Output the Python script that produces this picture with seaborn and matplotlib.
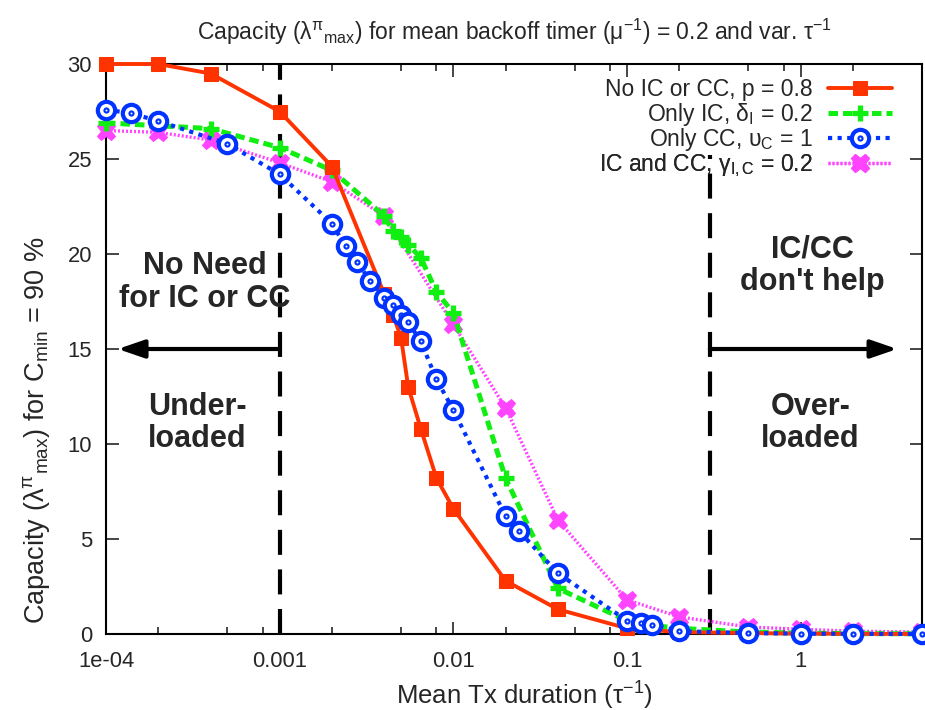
import numpy as np
import pandas as pd
import matplotlib
matplotlib.use("Agg")
import matplotlib.pyplot as plt
import seaborn as sns
from matplotlib.path import Path
from matplotlib.ticker import LogLocator, FixedLocator, NullFormatter, FixedFormatter

# ---------------- data ----------------
x_no = [1e-4, 2e-4, 4e-4, 1e-3, 2e-3, 4e-3, 4.5e-3, 5e-3, 5.5e-3, 6.5e-3, 8e-3, 1e-2,
        2e-2, 4e-2, 0.1, 0.2, 0.5, 1, 2, 5]
y_no = [30, 30, 29.5, 27.5, 24.6, 17.9, 16.8, 15.6, 13.0, 10.8, 8.2, 6.6,
        2.8, 1.3, 0.3, 0.1, 0.05, 0.02, 0.01, 0.0]

x_ic = [1e-4, 4e-4, 1e-3, 2e-3, 4e-3, 4.5e-3, 5e-3, 5.5e-3, 6.5e-3, 8e-3, 1e-2,
        2e-2, 4e-2, 0.1, 0.12, 0.14, 0.2, 0.5, 1, 2, 5]
y_ic = [26.9, 26.6, 25.6, 24.4, 22.0, 21.2, 20.9, 20.5, 19.8, 18.0, 16.9,
        8.2, 2.4, 0.7, 0.55, 0.45, 0.3, 0.1, 0.05, 0.02, 0.01]

x_cc = [1e-4, 1.4e-4, 2e-4, 5e-4, 1e-3, 2e-3, 2.4e-3, 2.8e-3, 3.3e-3, 4e-3, 4.5e-3,
        5e-3, 5.5e-3, 6.5e-3, 8e-3, 1e-2, 2e-2, 2.4e-2, 4e-2, 0.1, 0.12, 0.14,
        0.2, 0.5, 1, 2, 5]
y_cc = [27.6, 27.4, 27.0, 25.8, 24.2, 21.6, 20.4, 19.6, 18.6, 17.7, 17.3,
        16.8, 16.4, 15.4, 13.4, 11.8, 6.2, 5.4, 3.2, 0.7, 0.6, 0.5,
        0.15, 0.05, 0.02, 0.01, 0.0]

x_both = [1e-4, 2e-4, 4e-4, 1e-3, 2e-3, 4e-3, 1e-2, 2e-2, 4e-2, 0.1, 0.2, 0.5, 1, 2, 5]
y_both = [26.5, 26.4, 26.0, 24.8, 23.8, 22.0, 16.3, 11.9, 6.0, 1.8, 0.9, 0.37, 0.25, 0.15, 0.1]

labels = ["No IC or CC, p = 0.8",
          r"Only IC, δ$_{\mathrm{I}}$ = 0.2",
          r"Only CC, υ$_{\mathrm{C}}$ = 1",
          r"IC and CC, γ$_{\mathrm{I,C}}$ = 0.2"]

x_ticks = [1e-4, 1e-3, 1e-2, 0.1, 1]
x_ticklabels = ["1e-04", "0.001", "0.01", "0.1", "1"]
y_ticks = [0, 5, 10, 15, 20, 25, 30]

underloaded_limit = 1e-3
overloaded_limit = 0.3

# ---------------- style ----------------
sns.set_style("ticks")
plt.rcParams["font.family"] = ["Liberation Sans", "DejaVu Sans"]
plt.rcParams["mathtext.fontset"] = "custom"
plt.rcParams["mathtext.rm"] = "Liberation Sans"
plt.rcParams["mathtext.it"] = "Liberation Sans:italic"
plt.rcParams["mathtext.bf"] = "Liberation Sans:bold"

RED = "#ff3300"
GREEN = "#11ee11"
BLUE = "#0033ff"
MAGENTA = "#ff44ff"

fig = plt.figure(figsize=(9.25, 7.10), dpi=100)
ax = fig.add_axes([106 / 925, 1 - 634 / 710, 816 / 925, 570 / 710])

ring_dot = Path.make_compound_path(Path.circle((0, 0), 1.0), Path.circle((0, 0), 0.12))

h_no = sns.lineplot(x=x_no, y=y_no, ax=ax, color=RED, lw=2.8, marker="s", ms=10,
                    mec=RED, mfc=RED, sort=False, estimator=None, clip_on=False,
                    zorder=5).lines[-1]
h_ic = sns.lineplot(x=x_ic, y=y_ic, ax=ax, color=GREEN, lw=3.6, marker="+", ms=12,
                    mew=3.8, mec=GREEN, sort=False, estimator=None, clip_on=False,
                    zorder=4).lines[-1]
h_ic.set_dashes((1.9, 1.0))
h_cc = sns.lineplot(x=x_cc, y=y_cc, ax=ax, color=BLUE, lw=3.0, marker=ring_dot, ms=12.5,
                    mew=3.0, mec=BLUE, mfc="white", sort=False, estimator=None,
                    clip_on=False, zorder=6).lines[-1]
h_cc.set_dashes((1.0, 1.3))
h_both = sns.lineplot(x=x_both, y=y_both, ax=ax, color=MAGENTA, lw=2.4, marker="X", ms=13,
                      mec=MAGENTA, mfc=MAGENTA, sort=False, estimator=None, clip_on=False,
                      zorder=3).lines[-1]
h_both.set_dashes((0.6, 0.6))

# region boundaries
ax.plot([underloaded_limit, underloaded_limit], [0, 30], color="black", lw=3.0,
        dashes=(6, 3.5), zorder=2, clip_on=False)
ax.plot([overloaded_limit, overloaded_limit], [0, 25.2], color="black", lw=3.0,
        dashes=(6, 3.5), zorder=2)

arrow_kw = dict(arrowstyle="-|>,head_length=1.6,head_width=0.55", color="black",
                lw=3.0, shrinkA=0, shrinkB=0)
ax.annotate("", xy=(1.17e-4, 15), xytext=(underloaded_limit, 15), arrowprops=arrow_kw)
ax.annotate("", xy=(3.6, 15), xytext=(overloaded_limit, 15), arrowprops=arrow_kw)

txt_kw = dict(ha="center", va="center", fontsize=22, fontweight="bold", linespacing=1.12)
ax.text(3.72e-4, 18.5, "No Need\nfor IC or CC", **txt_kw)
ax.text(3.34e-4, 11.1, "Under-\nloaded", **txt_kw)
ax.text(1.17, 19.4, "IC/CC\ndon't help", **txt_kw)
ax.text(1.14, 11.1, "Over-\nloaded", **txt_kw)

# axes
ax.set_xscale("log")
ax.set_xlim(1e-4, 5)
ax.set_ylim(0, 30)
ax.xaxis.set_major_locator(FixedLocator(x_ticks))
ax.xaxis.set_major_formatter(FixedFormatter(x_ticklabels))
ax.xaxis.set_minor_locator(LogLocator(base=10, subs=(2, 5, 8)))
ax.xaxis.set_minor_formatter(NullFormatter())
ax.set_yticks(y_ticks)
ax.tick_params(axis="both", which="major", direction="in", length=9, width=1.2,
               labelsize=15.8, top=True, right=True)
ax.tick_params(axis="x", which="major", pad=12)
ax.tick_params(axis="y", which="major", pad=10)
ax.tick_params(axis="both", which="minor", direction="in", length=5, width=1.2,
               top=True, right=True)
for s in ax.spines.values():
    s.set_linewidth(1.5)
    s.set_color("black")

ax.set_xlabel(r"Mean Tx duration ($\mathrm{τ}^{\mathrm{-1}}$)", fontsize=18.5)
ax.set_ylabel(r"Capacity ($\mathrm{λ}^{\mathrm{π}}{}_{\mathrm{max}}$) for C$_{\mathrm{min}}$ = 90 %",
              fontsize=19.5)
ax.xaxis.set_label_coords(0.513, -0.08)
ax.yaxis.set_label_coords(-0.066, 0.358)
ax.set_title(r"Capacity ($\mathrm{λ}^{\mathrm{π}}{}_{\mathrm{max}}$) for mean backoff timer "
             r"($\mathrm{μ}^{\mathrm{-1}}$) = 0.2 and var. $\mathrm{τ}^{\mathrm{-1}}$",
             fontsize=16.5, pad=17)

# legend: one entry per row, text right-aligned before handle
rows_y = [0.956, 0.911, 0.868, 0.822]
for h, lab, yy in zip([h_no, h_ic, h_cc, h_both], labels, rows_y):
    leg = ax.legend([h], [lab], loc="center right", bbox_to_anchor=(0.963, yy),
                    frameon=False, markerfirst=False, fontsize=16.5, handlelength=2.8,
                    handletextpad=0.65, borderpad=0, borderaxespad=0)
    ax.add_artist(leg)

fig.savefig("out.png", dpi=100)
